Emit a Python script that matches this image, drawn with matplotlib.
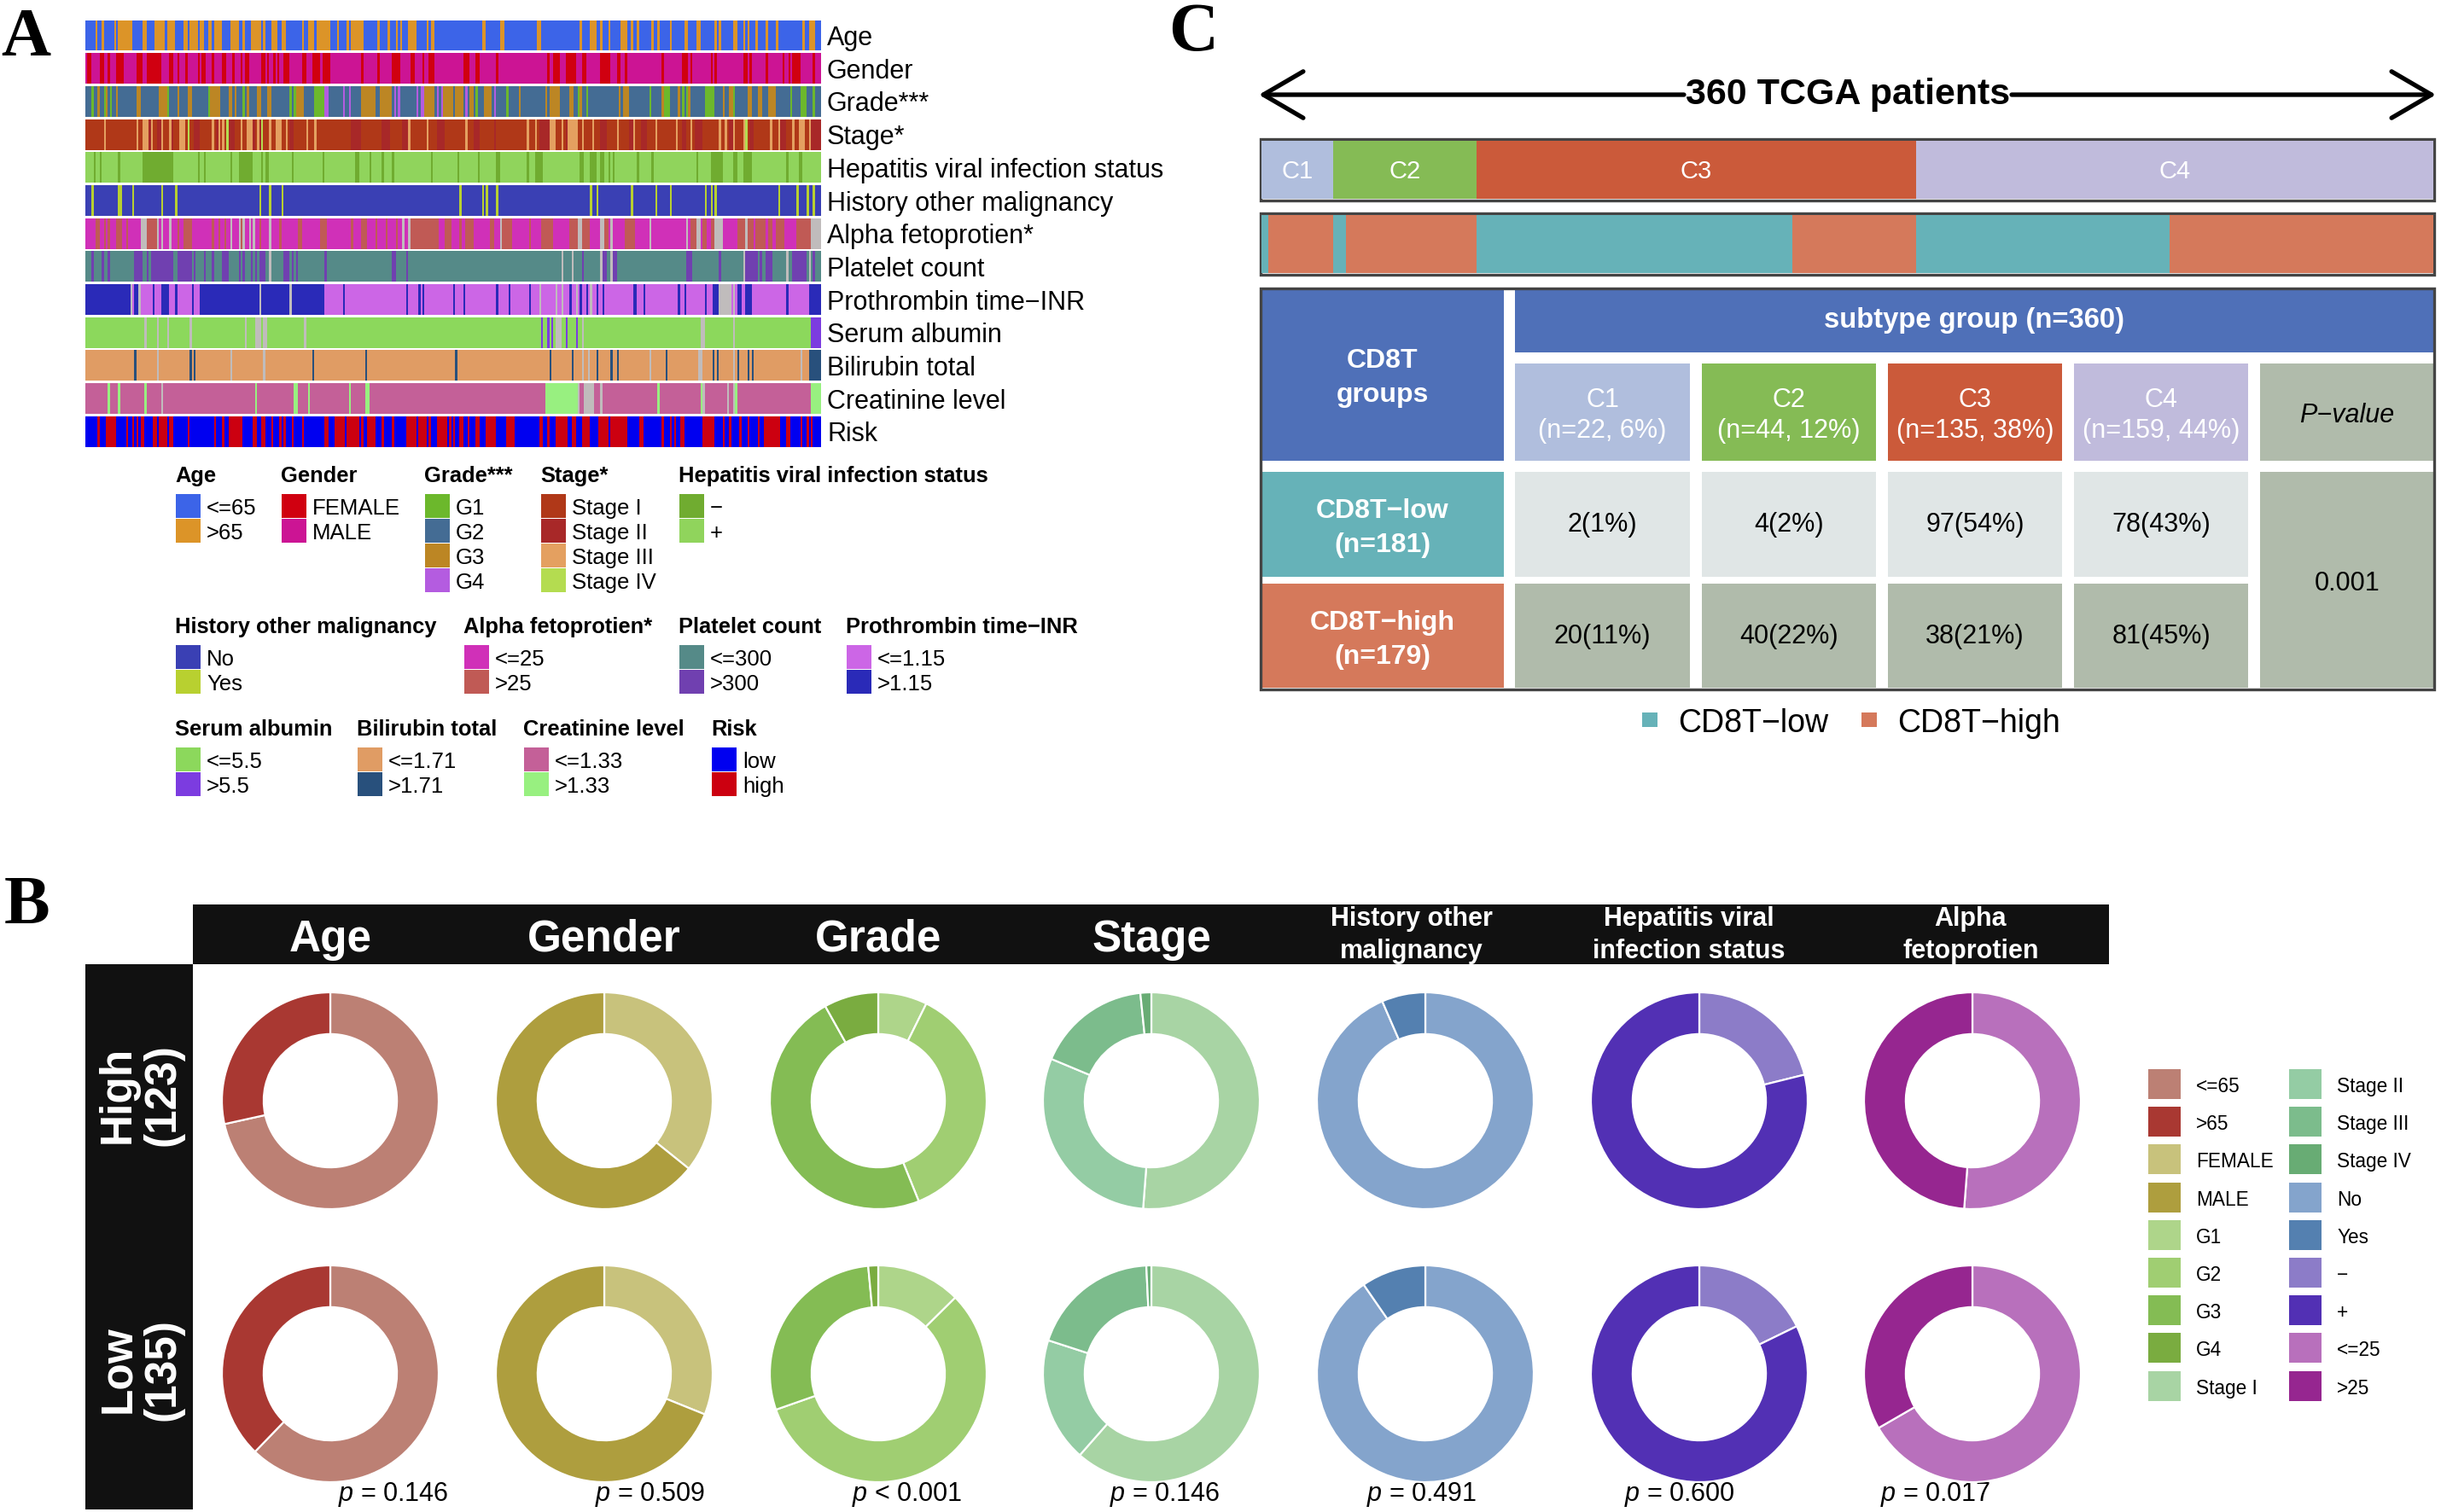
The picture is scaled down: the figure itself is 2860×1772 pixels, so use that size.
import numpy as np
import matplotlib
matplotlib.use('Agg')
import matplotlib.pyplot as plt
from matplotlib.colors import ListedColormap
from matplotlib.patches import Rectangle

plt.rcParams['font.family'] = ['Liberation Sans', 'DejaVu Sans']
plt.rcParams['mathtext.fontset'] = 'custom'
plt.rcParams['mathtext.it'] = 'Liberation Sans:italic'
plt.rcParams['mathtext.rm'] = 'Liberation Sans'

# ─────────────────────────── panel A data ─────────────────────────────
# every track: (first patient, number of patients) for the minority classes
n_patients = 360
gray = '#C0BCBC'

age_old = [(5,1),(8,1),(14,1),(16,7),(28,2),(34,5),(40,4),(48,2),(51,4),(56,2),(60,2),(63,4),
           (71,4),(77,1),(81,5),(87,1),(91,3),(96,1),(97,1),(106,1),(109,3),(113,7),(123,1),
           (128,1),(130,6),(143,1),(148,1),(152,1),(154,1),(158,4),(167,1),(169,2),(194,2),
           (203,2),(221,2),(242,1),(247,3),(252,1),(256,1),(262,3),(267,1),(270,1),(277,1),
           (280,1),(286,1),(293,2),(299,2),(308,1),(310,1),(317,2),(322,1),(324,1),(328,1),
           (333,1),(338,1),(351,1),(354,3)]
gender_female = [(1,2),(7,2),(11,1),(15,4),(25,3),(30,7),(41,2),(45,1),(49,1),(55,1),(57,2),
                 (62,1),(67,2),(72,1),(76,1),(78,2),(86,2),(89,1),(92,1),(94,1),(97,3),(106,2),
                 (111,4),(116,4),(135,1),(143,1),(150,4),(159,2),(165,1),(168,3),(185,3),(191,2),
                 (201,1),(226,1),(229,3),(235,5),(243,2),(252,5),(260,2),(264,1),(282,1),(292,3),
                 (296,1),(306,1),(308,1),(322,2),(325,1),(333,1),(341,1),(344,1),(346,4),(356,1)]
grade_g1 = [(3,1),(9,1),(12,1),(40,1),(60,1),(77,1),(100,1),(102,1),(112,5),(191,1),(206,1),
            (241,1),(245,1),(276,1),(283,3),(292,1),(294,1),(303,5),(317,1),(345,1),(350,3),(356,1)]
grade_g3 = [(6,1),(10,1),(15,1),(25,2),(36,4),(45,1),(50,2),(61,5),(70,2),(73,1),(79,1),(84,2),
            (89,2),(103,4),(135,7),(144,6),(166,5),(175,5),(181,4),(188,2),(195,3),(198,1),(212,1),
            (225,1),(227,5),(237,2),(242,1),(261,1),(263,3),(282,1),(290,1),(295,1),(312,1),(315,2),
            (324,2),(329,2),(334,4)]
grade_g4 = [(117,2),(126,1),(129,1),(151,1),(153,1),(162,1),(164,2),(172,1),(174,1),(186,1),(200,1)]
stage_ii = [(31,1),(35,2),(42,1),(53,3),(64,1),(70,3),(82,1),(85,1),(100,2),(130,5),(145,4),(155,3),
            (172,4),(190,3),(200,1),(222,5),(235,1),(252,3),(266,2),(272,3),(292,2),(298,4),(315,2),
            (325,2),(340,3),(355,5)]
stage_iii = [(9,1),(25,1),(28,3),(32,1),(37,1),(41,1),(46,3),(62,1),(65,1),(67,1),(76,1),(79,3),
             (84,1),(90,1),(93,3),(98,1),(108,1),(112,1),(158,1),(167,1),(186,1),(216,1),(220,1),
             (227,3),(233,1),(236,5),(243,1),(248,1),(260,1),(268,1),(279,1),(289,1),(296,1),(310,1),
             (313,1),(317,1),(322,1),(335,1),(339,1),(346,1),(349,3),(354,1)]
stage_iv = [(50,1),(69,1),(86,1),(323,1)]
hep_neg = [(4,1),(7,1),(16,1),(28,10),(38,5),(55,1),(58,1),(71,1),(75,7),(86,1),(88,2),(101,1),
           (116,1),(132,2),(139,1),(145,1),(150,1),(169,1),(182,1),(192,1),(201,2),(216,1),(220,4),
           (242,2),(247,3),(252,2),(256,1),(258,1),(270,1),(277,1),(299,1),(306,6),(317,2),(322,4),
           (343,1),(349,2)]
history_yes = [(3,1),(16,2),(23,1),(37,1),(44,1),(85,1),(90,1),(96,1),(183,1),(194,1),(196,1),(201,1),
               (247,1),(250,1),(267,1),(279,1),(286,1),(303,1),(306,1),(308,1),(339,1),(348,1),(353,1),(356,1)]
afp_high = [(5,2),(9,1),(11,1),(15,3),(20,1),(30,5),(45,1),(48,4),(62,1),(65,1),(68,1),(76,1),(85,1),
            (95,1),(104,2),(115,3),(130,1),(135,3),(142,1),(147,1),(152,1),(159,14),(176,3),(183,1),
            (186,4),(198,2),(204,5),(217,1),(223,6),(237,4),(243,4),(254,2),(264,5),(296,4),(302,2),
            (306,2),(319,4),(324,3),(328,5),(334,2),(338,4),(348,7)]
afp_na = [(27,3),(35,1),(37,1),(41,1),(71,1),(75,1),(77,1),(80,1),(82,1),(90,1),(155,1),(158,1),(203,1),
          (241,2),(252,2),(257,1),(276,1),(294,1),(299,2),(308,4),(323,1),(355,5)]
platelet_high = [(3,1),(8,1),(11,1),(24,4),(30,1),(32,11),(45,3),(48,4),(53,1),(58,1),(62,1),(67,3),(75,1),
                 (77,1),(81,1),(83,1),(85,3),(97,3),(101,1),(103,1),(117,1),(150,2),(157,1),(243,1),(253,2),
                 (258,2),(294,3),(310,1),(323,6),(330,1),(333,3),(346,7),(356,1)]
platelet_na = [(90,1),(233,1),(238,1),(252,1),(257,1),(322,1),(343,1),(354,1)]
inr_high = [(0,22),(24,3),(33,1),(37,4),(44,1),(52,1),(56,29),(86,14),(101,10),(111,6),(126,1),(157,1),
            (163,1),(165,1),(180,1),(185,1),(201,1),(207,1),(217,1),(237,1),(242,1),(245,1),(250,1),(253,1),
            (268,2),(273,1),(290,1),(293,1),(303,1),(307,4),(319,2),(323,3),(343,1),(354,6)]
inr_na = [(22,1),(26,1),(85,1),(100,1),(222,1),(230,1),(233,1),(240,1),(247,1),(310,6),(317,1)]
albumin_high = [(223,1),(226,1),(228,1),(235,1),(240,1),(355,5)]
albumin_na = [(29,1),(35,1),(40,1),(51,1),(78,1),(83,3),(87,2),(107,1),(230,3),(243,1),(301,2),(317,1)]
bilirubin_high = [(24,1),(51,1),(53,1),(111,1),(137,1),(181,1),(227,1),(238,1),(250,1),(257,1),(260,1),
                  (284,1),(307,1),(309,1),(319,1),(324,1),(326,1),(354,6)]
bilirubin_na = [(35,1),(71,1),(87,1),(243,1),(246,1),(276,1),(300,2),(317,1),(350,1)]
creatinine_high = [(11,1),(16,1),(29,1),(83,1),(102,2),(109,1),(129,1),(137,2),(225,16),(280,1),(301,1),
                   (318,1),(355,5)]
creatinine_na = [(37,1),(241,1),(244,5),(252,1),(302,1),(314,1),(317,1)]
risk_high = [(6,1),(10,5),(20,1),(23,1),(25,1),(27,2),(33,2),(36,4),(41,2),(50,1),(63,1),(67,1),(70,7),
             (82,2),(86,2),(91,1),(95,1),(97,1),(101,1),(106,1),(117,2),(122,5),(128,6),(135,1),(138,4),
             (145,1),(150,1),(157,5),(163,4),(168,1),(172,5),(178,1),(180,1),(183,2),(187,1),(191,2),
             (196,5),(206,4),(222,2),(226,1),(230,6),(238,2),(243,4),(251,3),(254,2),(257,8),(271,2),
             (282,1),(286,1),(288,1),(291,2),(302,6),(312,1),(315,1),(320,1),(324,1),(329,1),(332,8),
             (343,2),(350,1),(353,1),(355,1)]

track_names = ['Age', 'Gender', 'Grade***', 'Stage*', 'Hepatitis viral infection status',
               'History other malignancy', 'Alpha fetoprotien*', 'Platelet count',
               'Prothrombin time\u2212INR', 'Serum albumin', 'Bilirubin total',
               'Creatinine level', 'Risk']
track_colors = [['#3C64E8', '#DC9428'],
                ['#CC1494', '#D00010'],
                ['#446C94', '#6CB82C', '#BC8624', '#B45CE0'],
                ['#B03818', '#A82828', '#E4A060', '#B4DC50'],
                ['#90D45C', '#70AC30'],
                ['#3A40B4', '#B8D030'],
                ['#D030B8', '#C05A55', gray],
                ['#558A88', '#7040B0', gray],
                ['#CC66E6', '#2A2AB8', gray],
                ['#8CD85C', '#7C3CE0', gray],
                ['#E09C64', '#28507C', gray],
                ['#C46098', '#98F080', gray],
                ['#0000F0', '#CC0010']]
track_layers = [[age_old],
                [gender_female],
                [grade_g1, grade_g3, grade_g4],
                [stage_ii, stage_iii, stage_iv],
                [hep_neg],
                [history_yes],
                [afp_high, afp_na],
                [platelet_high, platelet_na],
                [inr_high, inr_na],
                [albumin_high, albumin_na],
                [bilirubin_high, bilirubin_na],
                [creatinine_high, creatinine_na],
                [risk_high]]

legend_a = [
    ('Age', ['<=65', '>65'], ['#3C64E8', '#DC9428']),
    ('Gender', ['FEMALE', 'MALE'], ['#D00010', '#CC1494']),
    ('Grade***', ['G1', 'G2', 'G3', 'G4'], ['#6CB82C', '#446C94', '#BC8624', '#B45CE0']),
    ('Stage*', ['Stage I', 'Stage II', 'Stage III', 'Stage IV'], ['#B03818', '#A82828', '#E4A060', '#B4DC50']),
    ('Hepatitis viral infection status', ['\u2212', '+'], ['#70AC30', '#90D45C']),
    ('History other malignancy', ['No', 'Yes'], ['#3A40B4', '#B8D030']),
    ('Alpha fetoprotien*', ['<=25', '>25'], ['#D030B8', '#C05A55']),
    ('Platelet count', ['<=300', '>300'], ['#558A88', '#7040B0']),
    ('Prothrombin time\u2212INR', ['<=1.15', '>1.15'], ['#CC66E6', '#2A2AB8']),
    ('Serum albumin', ['<=5.5', '>5.5'], ['#8CD85C', '#7C3CE0']),
    ('Bilirubin total', ['<=1.71', '>1.71'], ['#E09C64', '#28507C']),
    ('Creatinine level', ['<=1.33', '>1.33'], ['#C46098', '#98F080']),
    ('Risk', ['low', 'high'], ['#0000F0', '#CC0010']),
]

# ─────────────────────────── panel B data ─────────────────────────────
donut_titles = ['Age', 'Gender', 'Grade', 'Stage', 'History other\nmalignancy',
                'Hepatitis viral\ninfection status', 'Alpha\nfetoprotien']
age_counts        = [[88, 35], [84, 51]]
gender_counts     = [[44, 79], [42, 93]]
grade_counts      = [[9, 45, 59, 10], [17, 77, 39, 2]]
stage_counts      = [[63, 37, 21, 2], [83, 25, 26, 1]]
history_counts    = [[115, 8], [122, 13]]
hepatitis_counts  = [[26, 97], [24, 111]]
afp_counts        = [[63, 60], [90, 45]]
donut_counts  = [age_counts, gender_counts, grade_counts, stage_counts,
                 history_counts, hepatitis_counts, afp_counts]
donut_colors  = [['#BC8074', '#A93832'], ['#C8C27C', '#AE9E3E'],
                 ['#AED58A', '#A0CE72', '#84BC54', '#7AAC40'],
                 ['#A8D4A4', '#94CCA4', '#7CBC8C', '#68AC74'],
                 ['#84A4CC', '#5480B0'], ['#8C7CC8', '#5230B4'], ['#B870BC', '#962690']]
donut_labels  = [['<=65', '>65'], ['FEMALE', 'MALE'], ['G1', 'G2', 'G3', 'G4'],
                 ['Stage I', 'Stage II', 'Stage III', 'Stage IV'],
                 ['No', 'Yes'], ['\u2212', '+'], ['<=25', '>25']]
p_texts = ['= 0.146', '= 0.509', '< 0.001', '= 0.146', '= 0.491', '= 0.600', '= 0.017']
row_labels = ['High\n(123)', 'Low\n(135)']

# ─────────────────────────── panel C data ─────────────────────────────
cluster_names  = ['C1', 'C2', 'C3', 'C4']
cluster_sizes  = [22, 44, 135, 159]
cluster_pct    = [6, 12, 38, 44]
cluster_colors = ['#B0BEDD', '#85BB55', '#CB5A3A', '#C0BBDC']
cd8_low   = [2, 4, 97, 78]
cd8_high  = [20, 40, 38, 81]
cd8_low_pct  = [1, 2, 54, 43]
cd8_high_pct = [11, 22, 21, 45]
low_color, high_color = '#66B2B8', '#D5795B'
header_blue = '#4F70B8'
p_gray      = '#B0BBAB'
low_cell    = '#E0E6E6'

# ───────────────────────── layout helpers ─────────────────────────────
W, H = 2860, 1772
fig = plt.figure(figsize=(W / 100, H / 100), dpi=100, facecolor='white')

def px_axes(x0, y0, x1, y1, **kw):
    # axes from pixel box, y counted from the top of the image
    ax = fig.add_axes([x0 / W, 1 - y1 / H, (x1 - x0) / W, (y1 - y0) / H], **kw)
    ax.set_axis_off()
    return ax

over = px_axes(0, 0, W, H)
over.set_xlim(0, W); over.set_ylim(H, 0)

def box(x0, y0, x1, y1, color, **kw):
    over.add_patch(Rectangle((x0, y0), x1 - x0, y1 - y0, facecolor=color, edgecolor='none', **kw))

def txt(x, y, s, size, ha='left', va='center', **kw):
    # 3 px: glyphs sit above the centre of the text box
    over.text(x, y + 3, s, fontsize=size, ha=ha, va=va, **kw)

def track_codes(layers):
    codes = np.zeros(n_patients, dtype=int)
    for code, stripes in enumerate(layers, start=1):
        for start, n in stripes:
            codes[start:start + n] = code
    return codes

# ──────────────────────────── panel A ─────────────────────────────────
txt(30, 42, 'A', 58, ha='center', family='Liberation Serif', weight='bold')
heat_x0, heat_x1 = 100, 962
for i, (name, cols, layers) in enumerate(zip(track_names, track_colors, track_layers)):
    y0 = 23.5 + i * 38.7
    ax = px_axes(heat_x0, y0, heat_x1, y0 + 36)
    ax.imshow(track_codes(layers)[None, :], aspect='auto', interpolation='nearest',
              cmap=ListedColormap(cols), vmin=-0.5, vmax=len(cols) - 0.5)
    txt(969, y0 + 18.5, name, 22)

legend_cols = [205, 329, 497, 633, 795, 205, 543, 795, 991, 205, 418, 613, 833]
legend_tops = [555, 555, 555, 555, 555, 732, 732, 732, 732, 852, 852, 852, 852]
for (title, labs, cols), x, y in zip(legend_a, legend_cols, legend_tops):
    txt(x, y, title, 18.4, weight='bold')
    first = y + 38
    for j, (lab, col) in enumerate(zip(labs, cols)):
        yj = first + j * 29
        box(x + 1, yj - 14, x + 30, yj + 14, col)
        txt(x + 37, yj, lab, 18.5)

# ──────────────────────────── panel B ─────────────────────────────────
txt(32, 1060, 'B', 58, ha='center', family='Liberation Serif', weight='bold')
box(226, 1060, 2471, 1130, '#111111')
box(100, 1130, 226, 1769, '#111111')

donut_x = [387, 708, 1029, 1349, 1670, 1991, 2311]
donut_y = [1290, 1610]
title_x = [387, 708, 1029, 1349, 1654, 1979, 2309]
p_x     = [396, 697, 998, 1300, 1601, 1903, 2203]
r_px = 127
for k, title in enumerate(donut_titles):
    if '\n' in title:
        txt(title_x[k], 1093, title, 22, ha='center', color='white', weight='bold', linespacing=1.37)
    else:
        txt(title_x[k], 1098, title, 37, ha='center', color='white', weight='bold')
    for row, yc in enumerate(donut_y):
        ax = px_axes(donut_x[k] - r_px - 3, yc - r_px - 3, donut_x[k] + r_px + 3, yc + r_px + 3)
        ax.pie(donut_counts[k][row], colors=donut_colors[k], startangle=90, counterclock=False,
               radius=1, wedgeprops=dict(width=0.385, edgecolor='white', linewidth=1.6))
        lim = (r_px + 3) / r_px
        ax.set_xlim(-lim, lim); ax.set_ylim(-lim, lim)
    txt(p_x[k], 1749, r'$\mathit{p}$ ' + p_texts[k], 22)

for label, yc in zip(row_labels, [1280, 1602]):
    txt(165, yc, label, 37, ha='center', rotation=90, color='white', weight='bold',
        rotation_mode='anchor', linespacing=1.1)

# legend of the donuts, two columns of nine
legend_b_labels = [l for group in donut_labels for l in group]
legend_b_colors = [c for group in donut_colors for c in group]
for j, (lab, col) in enumerate(zip(legend_b_labels, legend_b_colors)):
    sx = 2517 if j < 9 else 2682
    yj = 1270.5 + (j % 9) * 44.2
    box(sx, yj - 17.5, sx + 38, yj + 17.5, col)
    txt(sx + 56, yj, lab, 16.3)

# ──────────────────────────── panel C ─────────────────────────────────
txt(1398, 36, 'C', 58, ha='center', family='Liberation Serif', weight='bold')
txt(2165, 108, '360 TCGA patients', 31, ha='center', weight='bold')
for tail, head in [(1973, 1475), (2357, 2854)]:
    over.annotate('', xy=(head, 111), xytext=(tail, 111),
                  arrowprops=dict(arrowstyle='->,head_length=1.2,head_width=0.7', lw=3.8,
                                  color='black', mutation_scale=28, shrinkA=0, shrinkB=0))

# cluster bar
ax = px_axes(1478, 165, 2851, 233)
left = 0
for name, size, col in zip(cluster_names, cluster_sizes, cluster_colors):
    ax.barh(0, size, left=left, height=1, color=col)
    ax.text(left + size / 2, -0.03, name, color='white', fontsize=21, ha='center', va='center')
    left += size
ax.set_xlim(0, n_patients); ax.set_ylim(-0.5, 0.5)

# CD8T bar, low then high inside each cluster
ax = px_axes(1478, 252, 2851, 320)
left = 0
for lo, hi in zip(cd8_low, cd8_high):
    ax.barh(0, lo, left=left, height=1, color=low_color)
    ax.barh(0, hi, left=left + lo, height=1, color=high_color)
    left += lo + hi
ax.set_xlim(0, n_patients); ax.set_ylim(-0.5, 0.5)

for y0, y1 in [(163, 235), (250, 322), (338, 808)]:
    over.add_patch(Rectangle((1477, y0), 1375, y1 - y0, facecolor='none', edgecolor='#444444', lw=2.4, zorder=5))

# table
box(1478, 340, 1762, 540, header_blue)
txt(1620, 440, 'CD8T\ngroups', 23, ha='center', color='white', weight='bold', linespacing=1.45)
box(1775, 340, 2851, 413, header_blue)
txt(2313, 372, 'subtype group (n=360)', 23.6, ha='center', color='white', weight='bold')
cell_x = [(1775, 1980), (1994, 2198), (2212, 2416), (2430, 2634)]
for (x0, x1), name, size, pct, col, lo, hi, lop, hip in zip(
        cell_x, cluster_names, cluster_sizes, cluster_pct, cluster_colors,
        cd8_low, cd8_high, cd8_low_pct, cd8_high_pct):
    xc = (x0 + x1) / 2
    box(x0, 426, x1, 540, col)
    txt(xc, 484, f'{name}\n(n={size}, {pct}%)', 22, ha='center', color='white', linespacing=1.29)
    box(x0, 553, x1, 676, low_cell)
    txt(xc, 612, f'{lo}({lop}%)', 22, ha='center')
    box(x0, 684, x1, 806, p_gray)
    txt(xc, 743, f'{hi}({hip}%)', 22, ha='center')
box(2648, 426, 2851, 540, p_gray)
txt(2750, 484, 'P\u2212value', 22, ha='center', style='italic')
box(2648, 553, 2851, 806, p_gray)
txt(2750, 681, '0.001', 22, ha='center')
box(1478, 553, 1762, 676, low_color)
txt(1620, 616, f'CD8T\u2212low\n(n={sum(cd8_low)})', 23, ha='center', color='white', weight='bold', linespacing=1.45)
box(1478, 684, 1762, 806, high_color)
txt(1620, 747, f'CD8T\u2212high\n(n={sum(cd8_high)})', 23, ha='center', color='white', weight='bold', linespacing=1.45)

box(1924, 835, 1942, 852, low_color)
txt(1966, 845, 'CD8T\u2212low', 27)
box(2181, 835, 2199, 852, high_color)
txt(2223, 845, 'CD8T\u2212high', 27)

fig.savefig('out.png', dpi=100, facecolor='white')
